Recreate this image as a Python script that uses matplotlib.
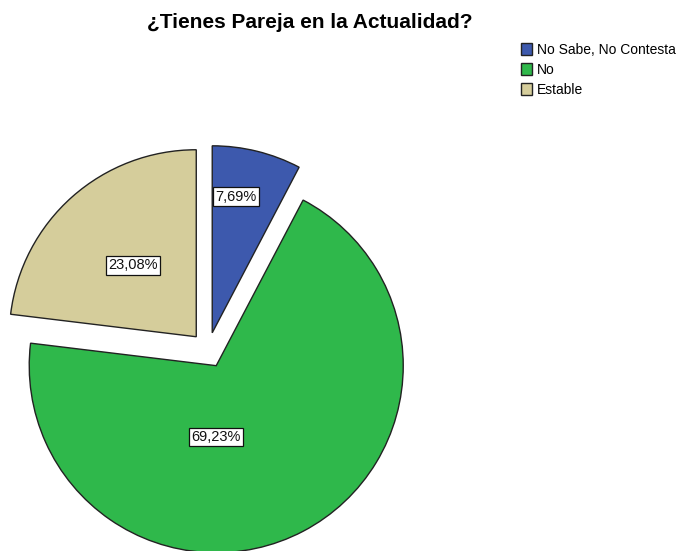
import matplotlib.pyplot as plt
import numpy as np

plt.rcParams["font.family"] = ["Liberation Sans", "DejaVu Sans"]

categories = ["No Sabe, No Contesta", "No", "Estable"]
percentages = [7.69, 69.23, 23.08]
colors = ["#3d59ad", "#2fb84b", "#d5cd9b"]

# label placement as fraction of radius, and direction override (deg, None = wedge middle)
label_dist = [0.74, 0.38, 0.51]
label_angle = [80, -90, None]

W, H = 685, 551
fig = plt.figure(figsize=(W / 100, H / 100), dpi=100)
ax = fig.add_axes([0, 0, 1, 1])

center = (208, 201)
radius = 187
offset = 17.7  # pie explode is in data units
wedges, _ = ax.pie(
    percentages,
    colors=colors,
    startangle=90,
    counterclock=False,
    explode=[offset] * 3,
    center=center,
    radius=radius,
    wedgeprops=dict(edgecolor="#222222", linewidth=1.0),
    frame=True,
)
ax.set_xlim(0, W)
ax.set_ylim(0, H)
ax.set_aspect("equal")
ax.axis("off")

for w, pct, d, ang in zip(wedges, percentages, label_dist, label_angle):
    mid = np.deg2rad((w.theta1 + w.theta2) / 2)
    cx, cy = w.center
    a = mid if ang is None else np.deg2rad(ang)
    x = cx + d * radius * np.cos(a)
    y = cy + d * radius * np.sin(a)
    ax.text(
        x, y, f"{pct:.2f}%".replace(".", ","),
        ha="center", va="center", fontsize=10.5, color="#111111",
        bbox=dict(boxstyle="square,pad=0.15", facecolor="white",
                  edgecolor="#111111", linewidth=0.9),
    )

fig.text(310 / W, 1 - 22 / H, "¿Tienes Pareja en la Actualidad?",
         ha="center", va="center", fontsize=15, fontweight="bold")

fig.legend(
    wedges, categories,
    loc="upper left", bbox_to_anchor=(515 / W, 1 - 37 / H),
    frameon=False, fontsize=10, handlelength=0.85, handleheight=0.95,
    handletextpad=0.3, labelspacing=0.45, borderaxespad=0,
)

fig.savefig("out.png", dpi=100)
